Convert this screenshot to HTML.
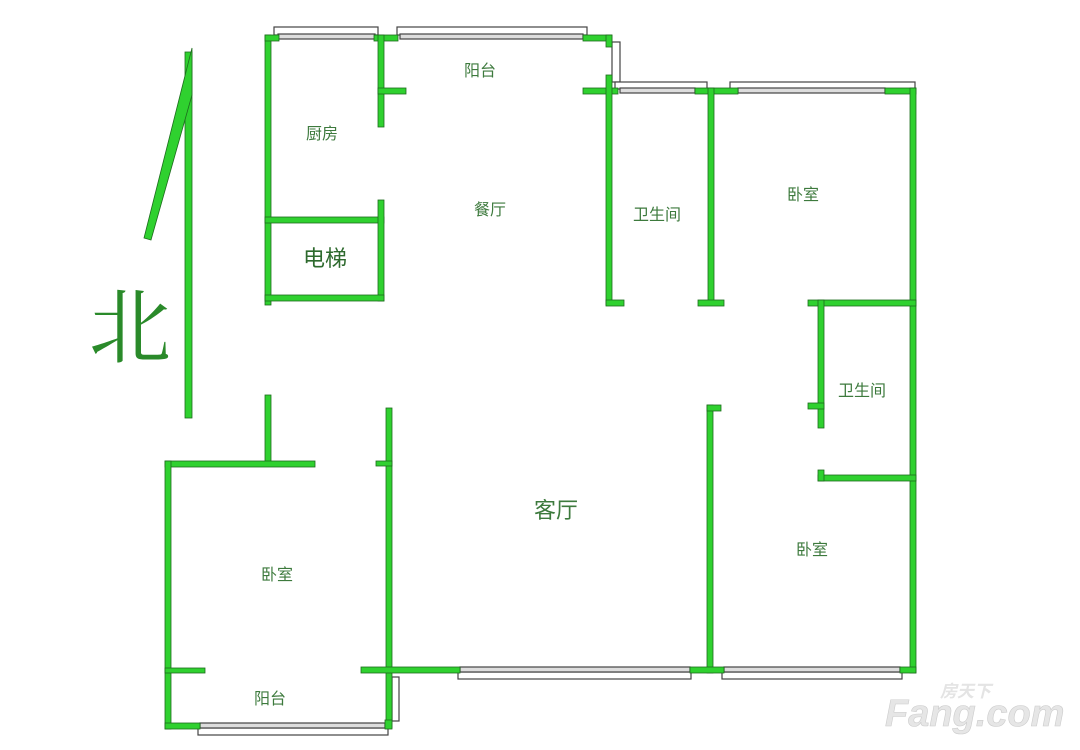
<!DOCTYPE html>
<html><head><meta charset="utf-8"><style>
html,body{margin:0;padding:0;background:#fff;width:1080px;height:750px;overflow:hidden}
svg text{font-family:"Liberation Sans","Noto Sans CJK SC",sans-serif;fill:#3d7a3d}
</style></head><body>
<svg width="1080" height="750" viewBox="0 0 1080 750" xmlns="http://www.w3.org/2000/svg">
<g fill="#fff" stroke="#444" stroke-width="1.2">
<!-- windows -->
<rect x="274" y="27" width="104" height="8"/><rect x="278" y="34" width="97" height="5" fill="#ddd"/>
<rect x="397" y="27" width="190" height="8"/><rect x="400" y="34" width="183" height="5" fill="#ddd"/>
<rect x="612" y="42" width="8" height="40"/>
<rect x="615" y="82" width="92" height="7"/><rect x="620" y="88" width="75" height="5" fill="#ddd"/>
<rect x="730" y="82" width="185" height="7"/><rect x="738" y="88" width="147" height="5" fill="#ddd"/>
<rect x="458" y="672" width="233" height="7"/><rect x="460" y="667" width="230" height="5" fill="#ddd"/>
<rect x="722" y="672" width="180" height="7"/><rect x="724" y="667" width="176" height="5" fill="#ddd"/>
<rect x="198" y="728" width="190" height="7"/><rect x="200" y="723" width="185" height="5" fill="#ddd"/>
<rect x="392" y="677" width="7" height="44"/>
</g>
<g fill="#2fd12f" stroke="#1d6b1d" stroke-width="0.8">
<!-- top left block -->
<rect x="265" y="35" width="6" height="270"/>
<rect x="265" y="35" width="14" height="6"/><rect x="374" y="35" width="24" height="6"/><rect x="583" y="35" width="29" height="6"/>
<rect x="606" y="35" width="6" height="12"/>
<rect x="378" y="35" width="6" height="92"/><rect x="378" y="88" width="28" height="6"/>
<rect x="265" y="217" width="119" height="6"/>
<rect x="378" y="200" width="6" height="101"/>
<rect x="265" y="295" width="119" height="6"/>
<rect x="265" y="395" width="6" height="70"/>
<!-- bath 1 -->
<rect x="583" y="88" width="35" height="6"/>
<rect x="606" y="75" width="6" height="230"/><rect x="606" y="300" width="18" height="6"/>
<rect x="695" y="88" width="43" height="6"/>
<rect x="708" y="88" width="6" height="217"/><rect x="698" y="300" width="26" height="6"/>
<rect x="885" y="88" width="31" height="6"/>
<rect x="910" y="88" width="6" height="585"/>
<rect x="808" y="300" width="108" height="6"/>
<rect x="818" y="300" width="6" height="128"/><rect x="808" y="403" width="16" height="6"/>
<rect x="818" y="475" width="98" height="6"/><rect x="818" y="470" width="6" height="11"/>
<!-- living / bedrooms -->
<rect x="707" y="405" width="6" height="268"/><rect x="707" y="405" width="14" height="6"/>
<rect x="165" y="461" width="150" height="6"/>
<rect x="165" y="461" width="6" height="268"/>
<rect x="386" y="408" width="6" height="320"/><rect x="376" y="461" width="16" height="5"/>
<rect x="165" y="668" width="40" height="5"/>
<rect x="361" y="667" width="99" height="6"/>
<rect x="690" y="667" width="34" height="6"/>
<rect x="900" y="667" width="16" height="6"/>
<rect x="165" y="723" width="35" height="6"/><rect x="385" y="720" width="7" height="9"/>
<!-- north arrow -->
<rect x="185" y="52" width="7" height="366"/>
<polygon points="192,48 192,95 151,240 144,238"/>
</g>
<text x="480" y="76" font-size="16" text-anchor="middle">阳台</text>
<text x="322" y="139" font-size="16" text-anchor="middle">厨房</text>
<text x="490" y="215" font-size="16" text-anchor="middle">餐厅</text>
<text x="325" y="266" font-size="22" text-anchor="middle" style="fill:#2e6a2e">电梯</text>
<text x="657" y="220" font-size="16" text-anchor="middle">卫生间</text>
<text x="803" y="200" font-size="16" text-anchor="middle">卧室</text>
<text x="862" y="396" font-size="16" text-anchor="middle">卫生间</text>
<text x="556" y="518" font-size="22" text-anchor="middle">客厅</text>
<text x="812" y="555" font-size="16" text-anchor="middle">卧室</text>
<text x="277" y="580" font-size="16" text-anchor="middle">卧室</text>
<text x="270" y="704" font-size="16" text-anchor="middle">阳台</text>
<text x="130" y="356" font-size="82" text-anchor="middle" style="fill:#2a8a2a;font-family:'Noto Serif CJK SC',serif">北</text>
<text x="940" y="697" font-size="17" style="fill:#e4e4e4;font-weight:bold;font-style:italic">房天下</text>
<text x="885" y="726" font-size="38" style="fill:#e6e6e6;font-weight:bold;font-style:italic;stroke:#ccc;stroke-width:0.6">Fang.com</text>
</svg>
</body></html>
